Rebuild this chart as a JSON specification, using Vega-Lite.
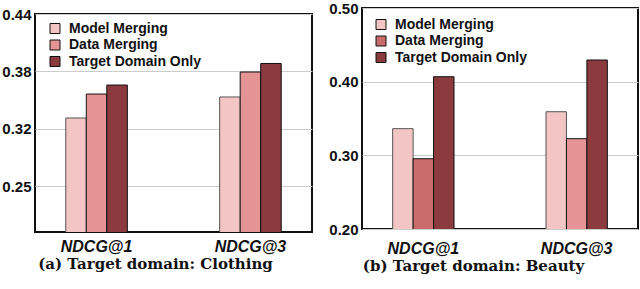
{
  "$schema": "https://vega.github.io/schema/vega-lite/v6.json",
  "padding": 0,
  "background": "white",
  "spacing": 14,
  "datasets": {
    "clothing": [
      {"metric": "NDCG@1", "method": "Model Merging", "value": 0.3242},
      {"metric": "NDCG@1", "method": "Data Merging", "value": 0.3503},
      {"metric": "NDCG@1", "method": "Target Domain Only", "value": 0.3601},
      {"metric": "NDCG@3", "method": "Model Merging", "value": 0.3471},
      {"metric": "NDCG@3", "method": "Data Merging", "value": 0.3743},
      {"metric": "NDCG@3", "method": "Target Domain Only", "value": 0.3836}
    ],
    "beauty": [
      {"metric": "NDCG@1", "method": "Model Merging", "value": 0.3362},
      {"metric": "NDCG@1", "method": "Data Merging", "value": 0.2954},
      {"metric": "NDCG@1", "method": "Target Domain Only", "value": 0.4067},
      {"metric": "NDCG@3", "method": "Model Merging", "value": 0.3592},
      {"metric": "NDCG@3", "method": "Data Merging", "value": 0.3226},
      {"metric": "NDCG@3", "method": "Target Domain Only", "value": 0.4294}
    ],
    "blank": [{"k": 1}]
  },
  "config": {
    "view": {"stroke": "#111", "strokeWidth": 2},
    "axis": {"labelFont": "Liberation Sans", "labelFontWeight": "bold", "labelColor": "#111", "ticks": false, "domain": false},
    "legend": {"labelFont": "Liberation Sans", "labelFontWeight": "bold", "labelFontSize": 14, "labelColor": "#111", "symbolType": "square", "symbolSize": 100, "symbolStrokeColor": "#111", "symbolStrokeWidth": 1, "rowPadding": 2.5, "labelOffset": 7, "padding": 0, "title": null}
  },
  "hconcat": [
    {
      "vconcat": [
        {
          "data": {"name": "blank"},
          "width": 200,
          "height": 1,
          "view": {"stroke": null},
          "mark": {"type": "point", "opacity": 0},
          "encoding": {}
        },
        {
          "data": {"name": "clothing"},
          "width": 277,
          "height": 218,
          "mark": {"type": "bar", "strokeWidth": 1, "clip": true},
          "encoding": {
            "x": {"field": "metric", "type": "nominal", "sort": null,
              "scale": {"paddingInner": 0.6, "paddingOuter": 0.2},
              "axis": {"title": "(a) Target domain: Clothing", "titleFont": "DejaVu Serif", "titleFontSize": 15, "titleFontWeight": "bold", "titleColor": "#111", "titlePadding": 2, "titleX": 120, "titleAlign": "center", "labelAngle": 0, "labelFontSize": 16, "labelFontStyle": "italic", "labelPadding": 6, "grid": false}},
            "xOffset": {"field": "method", "type": "nominal", "sort": ["Model Merging", "Data Merging", "Target Domain Only"], "scale": {"paddingInner": 0, "paddingOuter": 0}},
            "y": {"field": "value", "type": "quantitative",
              "scale": {"domain": [0.2, 0.4375], "nice": false, "zero": false},
              "axis": {"title": null, "values": [0.25, 0.3125, 0.375, 0.4375], "labelExpr": "datum.value == 0.3125 ? '0.32' : format(datum.value, '.2f')", "labelFontSize": 15, "labelPadding": 4, "gridColor": "#cccccc", "gridWidth": 1}},
            "fill": {"field": "method", "type": "nominal",
              "scale": {"domain": ["Model Merging", "Data Merging", "Target Domain Only"], "range": ["#f4c5c5", "#e59495", "#8b3a3e"]},
              "legend": {"orient": "none", "legendX": 13, "legendY": 13.5}},
            "stroke": {"condition": {"test": "datum.method === 'Model Merging'", "value": "#555"}, "value": "#111"}
          }
        }
      ],
      "spacing": 5,
      "bounds": "flush"
    },
    {
      "data": {"name": "beauty"},
      "width": 276,
      "height": 221,
      "mark": {"type": "bar", "strokeWidth": 1, "clip": true},
      "encoding": {
        "x": {"field": "metric", "type": "nominal", "sort": null,
          "scale": {"paddingInner": 0.6, "paddingOuter": 0.2},
          "axis": {"title": "(b) Target domain: Beauty", "titleFont": "DejaVu Serif", "titleFontSize": 15, "titleFontWeight": "bold", "titleColor": "#111", "titlePadding": 2, "titleX": 111, "titleAlign": "center", "labelAngle": 0, "labelFontSize": 16, "labelFontStyle": "italic", "labelPadding": 11, "grid": false}},
        "xOffset": {"field": "method", "type": "nominal", "sort": ["Model Merging", "Data Merging", "Target Domain Only"], "scale": {"paddingInner": 0, "paddingOuter": 0}},
        "y": {"field": "value", "type": "quantitative",
          "scale": {"domain": [0.2, 0.5], "nice": false, "zero": false},
          "axis": {"title": null, "values": [0.2, 0.3, 0.4, 0.5], "format": ".2f", "labelFontSize": 15, "labelPadding": 4, "gridColor": "#cccccc", "gridWidth": 1}},
        "fill": {"condition": {"test": "datum.metric === 'NDCG@3' && datum.method === 'Data Merging'", "value": "#e59495"},
          "field": "method", "type": "nominal",
          "scale": {"domain": ["Model Merging", "Data Merging", "Target Domain Only"], "range": ["#f4c5c5", "#c96b6b", "#8b3a3e"]},
          "legend": {"orient": "none", "legendX": 12, "legendY": 9.5}},
        "stroke": {"condition": {"test": "datum.method === 'Model Merging'", "value": "#555"}, "value": "#111"}
      }
    }
  ],
  "resolve": {"scale": {"fill": "independent", "x": "independent", "y": "independent", "xOffset": "independent"}, "legend": {"fill": "independent"}}
}
